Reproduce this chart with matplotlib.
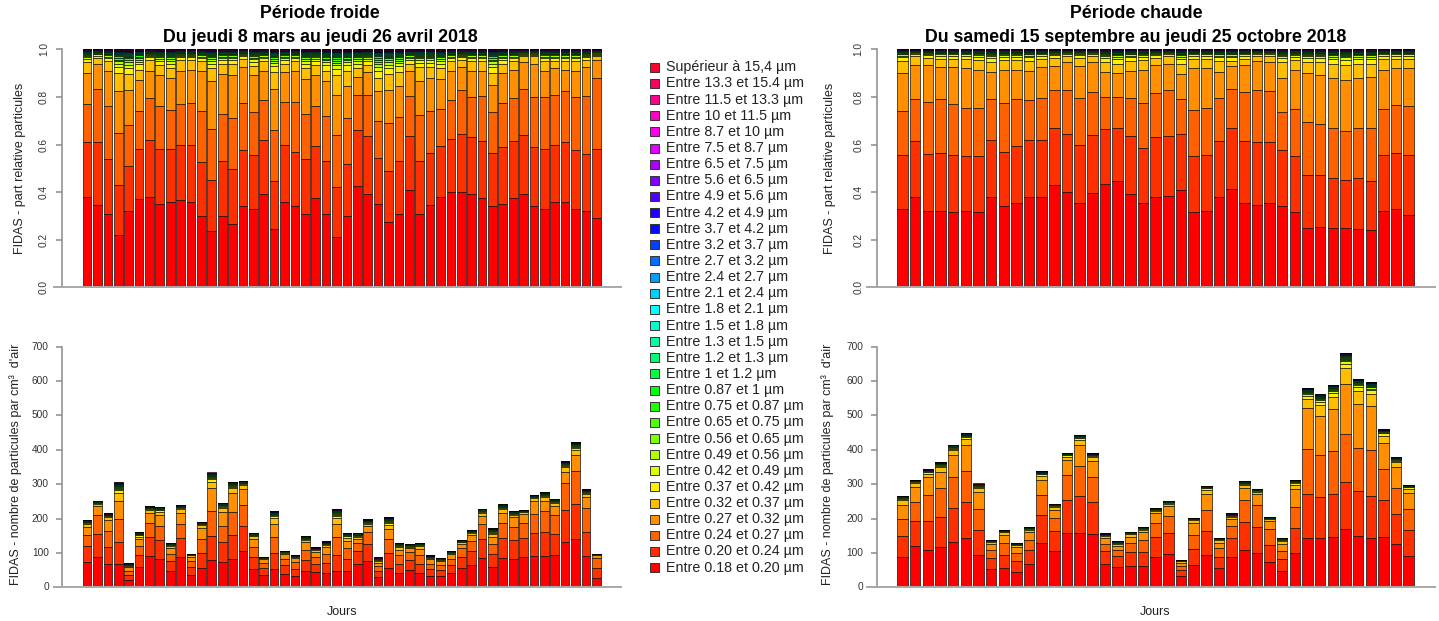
import numpy as np
import matplotlib
matplotlib.use("Agg")
import matplotlib.pyplot as plt
import matplotlib.colors as mcolors
from matplotlib.patches import Rectangle

plt.rcParams['font.family'] = ['Liberation Sans', 'DejaVu Sans']

# classes granulométriques du FIDAS, de la plus fine à la plus grosse
tailles = ["Entre 0.18 et 0.20 µm", "Entre 0.20 et 0.24 µm", "Entre 0.24 et 0.27 µm",
           "Entre 0.27 et 0.32 µm", "Entre 0.32 et 0.37 µm", "Entre 0.37 et 0.42 µm",
           "Entre 0.42 et 0.49 µm", "Entre 0.49 et 0.56 µm", "Entre 0.56 et 0.65 µm",
           "Entre 0.65 et 0.75 µm", "Entre 0.75 et 0.87 µm", "Entre 0.87 et 1 µm",
           "Entre 1 et 1.2 µm", "Entre 1.2 et 1.3 µm", "Entre 1.3 et 1.5 µm",
           "Entre 1.5 et 1.8 µm", "Entre 1.8 et 2.1 µm", "Entre 2.1 et 2.4 µm",
           "Entre 2.4 et 2.7 µm", "Entre 2.7 et 3.2 µm", "Entre 3.2 et 3.7 µm",
           "Entre 3.7 et 4.2 µm", "Entre 4.2 et 4.9 µm", "Entre 4.9 et 5.6 µm",
           "Entre 5.6 et 6.5 µm", "Entre 6.5 et 7.5 µm", "Entre 7.5 et 8.7 µm",
           "Entre 8.7 et 10 µm", "Entre 10 et 11.5 µm", "Entre 11.5 et 13.3 µm",
           "Entre 13.3 et 15.4 µm", "Supérieur à 15,4 µm"]

# période froide : parts cumulées en haut des 5 premières classes (50 jours)
froid_b1 = [0.38, 0.345, 0.31, 0.22, 0.32, 0.37, 0.38, 0.35, 0.36, 0.365,
            0.36, 0.30, 0.235, 0.30, 0.265, 0.34, 0.33, 0.39, 0.245, 0.36,
            0.34, 0.31, 0.375, 0.31, 0.21, 0.30, 0.425, 0.39, 0.35, 0.275,
            0.31, 0.41, 0.31, 0.345, 0.38, 0.40, 0.40, 0.39, 0.375, 0.34,
            0.35, 0.375, 0.39, 0.34, 0.33, 0.36, 0.36, 0.33, 0.32, 0.29]
froid_b2 = [0.61, 0.61, 0.54, 0.43, 0.51, 0.58, 0.62, 0.58, 0.58, 0.60,
            0.60, 0.525, 0.45, 0.53, 0.495, 0.575, 0.555, 0.62, 0.445, 0.60,
            0.57, 0.54, 0.595, 0.53, 0.42, 0.52, 0.66, 0.635, 0.545, 0.49,
            0.53, 0.635, 0.53, 0.565, 0.595, 0.625, 0.645, 0.63, 0.615, 0.565,
            0.59, 0.615, 0.64, 0.59, 0.58, 0.60, 0.61, 0.575, 0.56, 0.58]
froid_b3 = [0.77, 0.835, 0.76, 0.65, 0.68, 0.74, 0.795, 0.76, 0.745, 0.77,
            0.775, 0.74, 0.665, 0.73, 0.71, 0.775, 0.735, 0.785, 0.66, 0.78,
            0.78, 0.73, 0.76, 0.72, 0.64, 0.71, 0.81, 0.81, 0.70, 0.69,
            0.715, 0.805, 0.725, 0.74, 0.75, 0.785, 0.83, 0.80, 0.805, 0.735,
            0.775, 0.795, 0.835, 0.80, 0.80, 0.81, 0.825, 0.80, 0.805, 0.88]
froid_b4 = [0.90, 0.94, 0.91, 0.825, 0.83, 0.87, 0.91, 0.89, 0.88, 0.91,
            0.915, 0.91, 0.865, 0.895, 0.89, 0.925, 0.89, 0.91, 0.835, 0.905,
            0.91, 0.875, 0.89, 0.865, 0.81, 0.845, 0.885, 0.905, 0.825, 0.83,
            0.845, 0.91, 0.865, 0.88, 0.875, 0.91, 0.925, 0.91, 0.91, 0.85,
            0.90, 0.915, 0.945, 0.94, 0.91, 0.92, 0.915, 0.91, 0.925, 0.955]
froid_b5 = [0.945, 0.965, 0.95, 0.90, 0.895, 0.915, 0.955, 0.935, 0.92, 0.955,
            0.955, 0.95, 0.92, 0.94, 0.94, 0.96, 0.93, 0.95, 0.905, 0.94,
            0.95, 0.92, 0.935, 0.91, 0.89, 0.91, 0.92, 0.935, 0.88, 0.895,
            0.905, 0.94, 0.925, 0.925, 0.92, 0.95, 0.955, 0.95, 0.95, 0.90,
            0.94, 0.95, 0.97, 0.97, 0.95, 0.95, 0.95, 0.95, 0.955, 0.97]
froid_total = [196, 252, 215, 305, 70, 161, 236, 235, 130, 239,
               97, 190, 334, 246, 307, 310, 159, 89, 222, 107,
               93, 149, 116, 134, 227, 159, 159, 198, 87, 204,
               130, 126, 130, 93, 86, 105, 137, 167, 229, 172,
               241, 222, 225, 268, 277, 258, 367, 422, 285, 97]
# répartition du reste (classes 0.37 µm et plus)
froid_queue = [0.25, 0.14, 0.10, 0.08, 0.07, 0.06, 0.05, 0.04, 0.025, 0.025,
               0.02, 0.018, 0.016, 0.014, 0.013, 0.012, 0.011, 0.01, 0.009,
               0.008, 0.007, 0.006, 0.005, 0.004, 0.003, 0.002, 0.002]

# période chaude (41 jours)
chaud_b1 = [0.33, 0.38, 0.32, 0.32, 0.315, 0.32, 0.315, 0.38, 0.34, 0.355,
            0.38, 0.38, 0.43, 0.40, 0.355, 0.395, 0.435, 0.445, 0.39, 0.355,
            0.38, 0.385, 0.41, 0.315, 0.32, 0.38, 0.415, 0.355, 0.345, 0.355,
            0.34, 0.315, 0.25, 0.255, 0.25, 0.25, 0.245, 0.24, 0.32, 0.33,
            0.305]
chaud_b2 = [0.555, 0.615, 0.56, 0.565, 0.555, 0.55, 0.55, 0.62, 0.57, 0.595,
            0.62, 0.62, 0.67, 0.645, 0.60, 0.64, 0.665, 0.67, 0.635, 0.585,
            0.63, 0.635, 0.645, 0.55, 0.555, 0.615, 0.67, 0.615, 0.61, 0.61,
            0.575, 0.55, 0.47, 0.47, 0.46, 0.45, 0.46, 0.445, 0.555, 0.565,
            0.555]
chaud_b3 = [0.74, 0.79, 0.78, 0.79, 0.77, 0.755, 0.755, 0.79, 0.775, 0.79,
            0.785, 0.795, 0.83, 0.83, 0.795, 0.82, 0.80, 0.80, 0.795, 0.775,
            0.815, 0.83, 0.79, 0.745, 0.755, 0.795, 0.835, 0.82, 0.83, 0.825,
            0.735, 0.75, 0.695, 0.685, 0.67, 0.655, 0.67, 0.67, 0.75, 0.765,
            0.76]
chaud_b4 = [0.90, 0.935, 0.935, 0.925, 0.925, 0.92, 0.915, 0.905, 0.915, 0.915,
            0.91, 0.925, 0.93, 0.945, 0.93, 0.945, 0.905, 0.90, 0.91, 0.915,
            0.935, 0.94, 0.895, 0.92, 0.92, 0.905, 0.93, 0.935, 0.95, 0.945,
            0.88, 0.915, 0.90, 0.89, 0.88, 0.87, 0.88, 0.885, 0.915, 0.92,
            0.92]
chaud_b5 = [0.95, 0.97, 0.965, 0.96, 0.96, 0.96, 0.955, 0.945, 0.955, 0.955,
            0.95, 0.96, 0.965, 0.97, 0.965, 0.97, 0.945, 0.94, 0.95, 0.955,
            0.965, 0.97, 0.94, 0.96, 0.96, 0.95, 0.95, 0.96, 0.97, 0.97,
            0.945, 0.955, 0.945, 0.945, 0.94, 0.935, 0.94, 0.94, 0.96, 0.96,
            0.96]
chaud_total = [267, 313, 343, 364, 415, 449, 302, 139, 167, 128,
               176, 338, 243, 392, 444, 390, 157, 134, 162, 176,
               230, 251, 80, 203, 296, 144, 215, 309, 287, 204,
               143, 313, 579, 561, 590, 681, 607, 597, 460, 379,
               299]
chaud_queue = [0.32, 0.15, 0.10, 0.07, 0.06, 0.05, 0.04, 0.03, 0.02, 0.02,
               0.018, 0.016, 0.014, 0.013, 0.012, 0.011, 0.01, 0.009, 0.008,
               0.007, 0.006, 0.005, 0.004, 0.003, 0.002, 0.001, 0.001]

W, H = 1439, 621
fig = plt.figure(figsize=(W / 100, H / 100), dpi=100)

couleurs = [mcolors.hsv_to_rgb((k / 32, 1.0, 1.0)) for k in range(32)]
GRIS = '#8c8c8c'


def axes_px(x0, x1, y0, y1):
    ax = fig.add_axes([x0 / W, 1 - y1 / H, (x1 - x0) / W, (y1 - y0) / H])
    ax.patch.set_visible(False)
    return ax


def fractions(b1, b2, b3, b4, b5, queue):
    bornes = np.array([b1, b2, b3, b4, b5], dtype=float)
    bas = np.vstack([np.zeros(bornes.shape[1]), bornes[:-1]])
    reste = 1 - bornes[-1]
    return np.vstack([bornes - bas, np.outer(queue, reste)])


def barres(ax, parts, total=None):
    n = parts.shape[1]
    x = 0.7 + 1.2 * np.arange(n)
    echelle = np.ones(n) if total is None else np.asarray(total, dtype=float)
    bas = np.zeros(n)
    for k in range(parts.shape[0]):
        h = parts[k] * echelle
        ax.bar(x, h, width=1.0, bottom=bas, color=couleurs[k],
               edgecolor='black', linewidth=0.45)
        bas += h
    span = 1.2 * n - 0.2
    ax.set_xlim(0.2 - 0.04 * span, 1.2 * n + 0.04 * span)


def habiller(ax, ymax, pas, fmt, rot):
    ax.set_ylim(0, ymax)
    for s in ['top', 'right', 'bottom']:
        ax.spines[s].set_visible(False)
    ax.spines['left'].set_bounds(0, ymax)
    ax.spines['left'].set_color(GRIS)
    ax.spines['left'].set_linewidth(1.1)
    ax.set_xticks([])
    ticks = np.arange(0, ymax + pas / 2, pas)
    ax.set_yticks(ticks)
    ax.set_yticklabels([fmt.format(t) for t in ticks], rotation=rot,
                       va='center', fontsize=7.3, color='#333333')
    ax.tick_params(axis='y', direction='out', length=4.5, width=1.1,
                   color=GRIS, pad=5)
    x0, x1 = ax.get_xlim()
    ax.plot([x0 - 0.9, x1], [0, 0], color='#a8a8a8', lw=1.4,
            clip_on=False, zorder=5)


froid = fractions(froid_b1, froid_b2, froid_b3, froid_b4, froid_b5, froid_queue)
chaud = fractions(chaud_b1, chaud_b2, chaud_b3, chaud_b4, chaud_b5, chaud_queue)

ax_tl = axes_px(62, 621.4, 49.3, 287.3)
barres(ax_tl, froid)
habiller(ax_tl, 1.0, 0.2, "{:.1f}", 90)

ax_tr = axes_px(876.6, 1434.7, 49.3, 287.3)
barres(ax_tr, chaud)
habiller(ax_tr, 1.0, 0.2, "{:.1f}", 90)

ax_bl = axes_px(62, 621.4, 346.7, 587.3)
barres(ax_bl, froid, froid_total)
habiller(ax_bl, 700, 100, "{:.0f}", 0)

ax_br = axes_px(876.6, 1434.7, 346.7, 587.3)
barres(ax_br, chaud, chaud_total)
habiller(ax_br, 700, 100, "{:.0f}", 0)

# titres
titre = dict(ha='center', va='center', fontsize=12.8, fontweight='bold')
fig.text(320 / W, 1 - 14 / H, "Période froide", **titre)
fig.text(320 / W, 1 - 37 / H, "Du jeudi 8 mars au jeudi 26 avril 2018", **titre)
fig.text(1136 / W, 1 - 14 / H, "Période chaude", **titre)
fig.text(1136 / W, 1 - 37 / H, "Du samedi 15 septembre au jeudi 25 octobre 2018", **titre)

# étiquettes des axes
lab = dict(ha='center', va='center', fontsize=9, color='#222222')
fig.text(20 / W, 1 - 168 / H, "FIDAS - part relative particules", rotation=90, **lab)
fig.text(830 / W, 1 - 168 / H, "FIDAS - part relative particules", rotation=90, **lab)
fig.text(16 / W, 1 - 464 / H, "FIDAS - nombre de particules par cm³  d'air", rotation=90, **lab)
fig.text(828 / W, 1 - 464 / H, "FIDAS - nombre de particules par cm³  d'air", rotation=90, **lab)
fig.text(342 / W, 1 - 612 / H, "Jours", **lab)
fig.text(1155 / W, 1 - 612 / H, "Jours", **lab)

# légende commune, de la plus grosse classe à la plus fine
y_haut, pas_leg = 67.3, 16.14
for i, k in enumerate(range(31, -1, -1)):
    yc = y_haut + i * pas_leg
    fig.add_artist(Rectangle((650 / W, 1 - (yc + 4.5) / H), 9 / W, 9 / H,
                             transform=fig.transFigure, facecolor=couleurs[k],
                             edgecolor='#333333', linewidth=0.7))
    fig.text(666 / W, 1 - yc / H, tailles[k], ha='left', va='center',
             fontsize=10.3, color='#222222')

fig.savefig("out.png", dpi=100)
